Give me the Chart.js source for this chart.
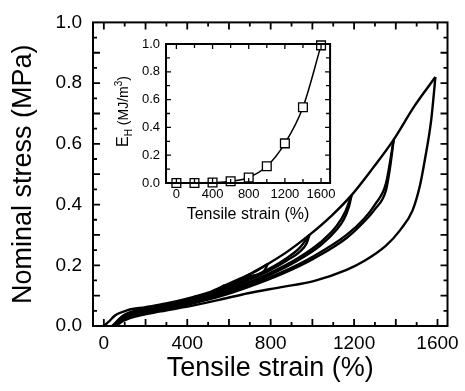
<!DOCTYPE html>
<html>
<head>
<meta charset="utf-8">
<script src="https://cdn.jsdelivr.net/npm/chart.js@4.4.1/dist/chart.umd.min.js"></script>
<style>
  body { margin: 0; background: #fff; }
  #wrap { position: relative; width: 465px; height: 391px; }
  #main { position: absolute; left: 0; top: 0; }
  #inset { position: absolute; left: 100px; top: 30px; }
</style>
</head>
<body>
<div id="wrap">
  <canvas id="main" width="465" height="391"></canvas>
  <canvas id="inset" width="240" height="200"></canvas>
</div>
<script>
// tick labels
const strainTicks = [0, 400, 800, 1200, 1600];
const stressTicks = [0, 0.2, 0.4, 0.6, 0.8, 1.0];
const insetStrainTicks = [0, 400, 800, 1200, 1600];
const insetEnergyTicks = [0, 0.2, 0.4, 0.6, 0.8, 1.0];

// first loading, through every peak
const loadStrain = [0, 25, 52, 114, 200, 273, 350, 431, 500, 565, 650, 720, 786, 880, 986, 1090, 1188, 1290, 1390, 1490, 1590];
const loadStress = [0, 0.015, 0.034, 0.052, 0.062, 0.071, 0.082, 0.096, 0.11, 0.129, 0.155, 0.177, 0.204, 0.245, 0.30, 0.362, 0.431, 0.52, 0.614, 0.725, 0.82];

// unloading branches (written from residual strain up to the peak)
const unload600Strain = [45, 90, 150, 273, 431, 540, 580];
const unload600Stress = [0, 0.033, 0.05, 0.068, 0.093, 0.118, 0.135];
const unload800Strain = [48, 90, 150, 273, 431, 565, 691, 770, 786];
const unload800Stress = [0, 0.029, 0.046, 0.064, 0.089, 0.12, 0.162, 0.183, 0.204];
const unload1000Strain = [50, 90, 150, 273, 431, 565, 691, 786, 880, 940, 972, 986];
const unload1000Stress = [0, 0.026, 0.043, 0.06, 0.085, 0.113, 0.15, 0.18, 0.217, 0.245, 0.272, 0.30];
const unload1200Strain = [52, 90, 150, 273, 431, 565, 691, 786, 928, 1038, 1117, 1150, 1175, 1188];
const unload1200Stress = [0, 0.023, 0.04, 0.056, 0.08, 0.106, 0.138, 0.165, 0.215, 0.265, 0.318, 0.35, 0.392, 0.431];
const unload1400Strain = [55, 90, 150, 273, 431, 565, 691, 849, 1006, 1164, 1250, 1300, 1353, 1372, 1390];
const unload1400Stress = [0, 0.02, 0.036, 0.052, 0.075, 0.099, 0.128, 0.17, 0.222, 0.29, 0.345, 0.385, 0.447, 0.52, 0.614];
const unload1600Strain = [58, 90, 150, 273, 431, 565, 691, 850, 1006, 1164, 1250, 1353, 1420, 1480, 1515, 1540, 1570, 1590];
const unload1600Stress = [0, 0.016, 0.031, 0.048, 0.068, 0.088, 0.108, 0.128, 0.148, 0.185, 0.215, 0.265, 0.315, 0.38, 0.46, 0.55, 0.68, 0.82];

// reloading branches (up to the previous peak)
const reload1000Strain = [40, 90, 150, 273, 431, 565, 691, 786];
const reload1000Stress = [0, 0.031, 0.049, 0.067, 0.092, 0.124, 0.168, 0.204];
const reload1200Strain = [42, 90, 150, 273, 431, 565, 691, 786, 880, 940, 986];
const reload1200Stress = [0, 0.028, 0.046, 0.063, 0.088, 0.117, 0.155, 0.186, 0.225, 0.258, 0.30];
const reload1400Strain = [45, 90, 150, 273, 431, 565, 691, 786, 928, 1038, 1117, 1160, 1188];
const reload1400Stress = [0, 0.025, 0.043, 0.059, 0.083, 0.11, 0.143, 0.171, 0.222, 0.275, 0.33, 0.38, 0.431];
const reload1600Strain = [48, 90, 150, 273, 431, 565, 691, 849, 1006, 1164, 1250, 1300, 1353, 1390];
const reload1600Stress = [0, 0.022, 0.039, 0.055, 0.078, 0.103, 0.133, 0.176, 0.23, 0.30, 0.355, 0.40, 0.47, 0.614];

// inset: hysteresis energy
const insetStrain = [0, 200, 400, 600, 800, 1000, 1200, 1400, 1600];
const insetEnergy = [0, 0, 0.003, 0.012, 0.04, 0.12, 0.285, 0.545, 0.99];

const FONT = "'Liberation Sans', Arial, Helvetica, sans-serif";
Chart.defaults.font.family = FONT;
Chart.defaults.color = '#000';

const pts = (xs, ys) => xs.map((x, i) => ({ x: x, y: ys[i] }));

// box frame plus inward ticks on all four sides
function frameTicks(name, cfg) {
  return {
    id: name,
    afterDraw(chart) {
      const ctx = chart.ctx;
      const a = chart.chartArea;
      const sx = chart.scales.x, sy = chart.scales.y;
      ctx.save();
      ctx.strokeStyle = '#000';
      ctx.lineWidth = cfg.tickWidth;
      ctx.beginPath();
      const nx = Math.floor(sx.max / cfg.xMinor);
      for (let k = Math.ceil(sx.min / cfg.xMinor); k <= nx; k++) {
        const len = (k % 2 === 0) ? cfg.majorLen : cfg.minorLen;
        const px = sx.getPixelForValue(k * cfg.xMinor);
        ctx.moveTo(px, a.bottom); ctx.lineTo(px, a.bottom - len);
        ctx.moveTo(px, a.top); ctx.lineTo(px, a.top + len);
      }
      const ny = Math.round((sy.max - sy.min) / cfg.yMinor);
      for (let k = 1; k < ny; k++) {
        const len = (k % 2 === 0) ? cfg.majorLen : cfg.minorLen;
        const py = sy.getPixelForValue(sy.min + k * cfg.yMinor);
        ctx.moveTo(a.left, py); ctx.lineTo(a.left + len, py);
        ctx.moveTo(a.right, py); ctx.lineTo(a.right - len, py);
      }
      ctx.stroke();
      ctx.lineWidth = cfg.frameWidth;
      ctx.strokeRect(a.left, a.top, a.right - a.left, a.bottom - a.top);
      ctx.restore();
    }
  };
}

const curveStyle = {
  showLine: true, borderColor: '#000', borderWidth: 2.4, pointRadius: 0,
  cubicInterpolationMode: 'monotone', fill: false, clip: false
};

const mainCurves = [
  [loadStrain, loadStress],
  [unload600Strain, unload600Stress],
  [unload800Strain, unload800Stress],
  [reload1000Strain, reload1000Stress],
  [unload1000Strain, unload1000Stress],
  [reload1200Strain, reload1200Stress],
  [unload1200Strain, unload1200Stress],
  [reload1400Strain, reload1400Stress],
  [unload1400Strain, unload1400Stress],
  [reload1600Strain, reload1600Stress],
  [unload1600Strain, unload1600Stress]
];

new Chart(document.getElementById('main'), {
  type: 'scatter',
  data: {
    datasets: mainCurves.map(c => Object.assign({ data: pts(c[0], c[1]) }, curveStyle))
  },
  options: {
    responsive: false,
    animation: false,
    layout: { padding: { top: 22, right: 13, left: 0, bottom: 0 } },
    plugins: { legend: { display: false }, tooltip: { enabled: false } },
    scales: {
      x: {
        type: 'linear', min: -52, max: 1648,
        grid: { display: false, drawTicks: false },
        border: { display: false },
        afterBuildTicks: s => { s.ticks = strainTicks.map(v => ({ value: v })); },
        afterFit: s => { s.height = 65; },
        ticks: { font: { size: 19 }, color: '#000', padding: 6, maxRotation: 0, callback: v => String(v) },
        title: { display: true, text: 'Tensile strain (%)', font: { size: 27 }, color: '#000', padding: { top: 0, bottom: 6 } }
      },
      y: {
        type: 'linear', min: 0, max: 1,
        grid: { display: false, drawTicks: false },
        border: { display: false },
        afterBuildTicks: s => { s.ticks = stressTicks.map(v => ({ value: v })); },
        afterFit: s => { s.width = 93; },
        ticks: { font: { size: 19 }, color: '#000', padding: 11, callback: v => v.toFixed(1) },
        title: { display: true, text: 'Nominal stress (MPa)', font: { size: 27 }, color: '#000', padding: { top: 7, bottom: 0 } }
      }
    }
  },
  plugins: [frameTicks('mainFrame', { tickWidth: 1.8, frameWidth: 2, xMinor: 100, yMinor: 0.05, majorLen: 7, minorLen: 4 })]
});

// inset y title with subscript and superscript
const insetYTitle = {
  id: 'insetYTitle',
  afterDraw(chart) {
    const { ctx, chartArea: a } = chart;
    const parts = [
      { t: 'E', size: 16, dy: 0 },
      { t: 'H', size: 10, dy: 4 },
      { t: ' (MJ/m', size: 14, dy: 0 },
      { t: '3', size: 10, dy: -6 },
      { t: ')', size: 14, dy: 0 }
    ];
    ctx.save();
    ctx.fillStyle = '#000';
    ctx.textBaseline = 'alphabetic';
    let total = 0;
    parts.forEach(p => { ctx.font = p.size + 'px ' + FONT; p.w = ctx.measureText(p.t).width; total += p.w; });
    ctx.translate(28, (a.top + a.bottom) / 2 - 2);
    ctx.rotate(-Math.PI / 2);
    let x = -total / 2;
    parts.forEach(p => {
      ctx.font = p.size + 'px ' + FONT;
      ctx.fillText(p.t, x, p.dy);
      x += p.w;
    });
    ctx.restore();
  }
};

new Chart(document.getElementById('inset'), {
  type: 'scatter',
  data: {
    datasets: [{
      data: pts(insetStrain, insetEnergy),
      showLine: true, borderColor: '#000', borderWidth: 1.5,
      cubicInterpolationMode: 'monotone', clip: false,
      pointStyle: 'rect', pointRadius: 6.2, pointBorderWidth: 1.3,
      pointBackgroundColor: '#fff', pointBorderColor: '#000'
    }]
  },
  options: {
    responsive: false,
    animation: false,
    layout: { padding: { top: 14, right: 9, left: 0, bottom: 0 } },
    plugins: { legend: { display: false }, tooltip: { enabled: false } },
    scales: {
      x: {
        type: 'linear', min: -115, max: 1700,
        grid: { display: false, drawTicks: false },
        border: { display: false },
        afterBuildTicks: s => { s.ticks = insetStrainTicks.map(v => ({ value: v })); },
        afterFit: s => { s.height = 47; },
        ticks: { font: { size: 13 }, color: '#000', padding: 4, maxRotation: 0, callback: v => String(v) },
        title: { display: true, text: 'Tensile strain (%)', font: { size: 16 }, color: '#000', padding: { top: 0, bottom: 6 } }
      },
      y: {
        type: 'linear', min: 0, max: 1,
        grid: { display: false, drawTicks: false },
        border: { display: false },
        afterBuildTicks: s => { s.ticks = insetEnergyTicks.map(v => ({ value: v })); },
        afterFit: s => { s.width = 66; },
        ticks: { font: { size: 13 }, color: '#000', padding: 6, callback: v => v.toFixed(1) }
      }
    }
  },
  plugins: [frameTicks('insetFrame', { tickWidth: 1.3, frameWidth: 2, xMinor: 200, yMinor: 0.1, majorLen: 5, minorLen: 4 }), insetYTitle]
});
</script>
</body>
</html>
